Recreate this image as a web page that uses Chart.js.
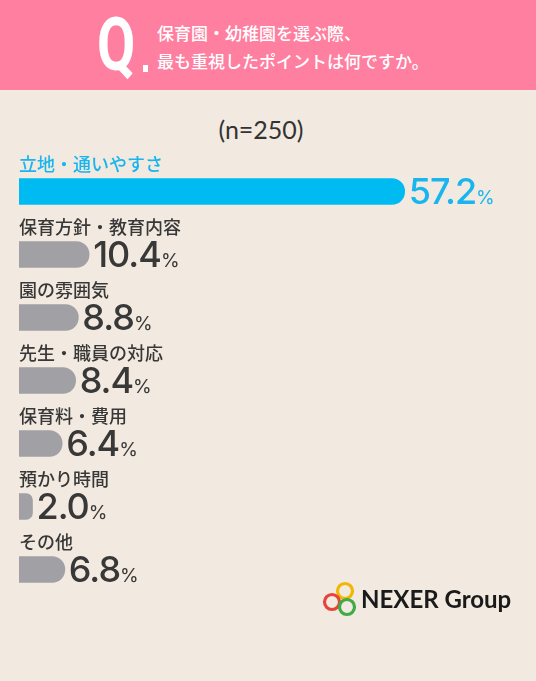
<!DOCTYPE html>
<html>
<head>
<meta charset="utf-8">
<script src="https://cdn.jsdelivr.net/npm/chart.js@4"></script>
<style>
  body { margin: 0; background: #F2EAE0; font-family: "Noto Sans CJK JP", "Noto Sans", sans-serif; }
  #page { position: relative; width: 536px; height: 681px; overflow: hidden; background: #F2EAE0; }
  #head { position: absolute; left: 0; top: 0; width: 536px; height: 90px; background: #FF7FA0; }
  #q { position: absolute; left: 97px; top: 3px; color: #fff; font: 700 74px Roboto, sans-serif; transform: scaleX(0.75); transform-origin: left top; line-height: 84px; }
  #qdot { position: absolute; left: 143px; top: 65px; width: 5px; height: 7px; background: #fff; }
  #qtext { position: absolute; left: 157px; top: 19px; color: #fff; font: 500 17px "Noto Sans CJK JP", sans-serif; line-height: 28px; }
  #n { position: absolute; left: 0; width: 522px; top: 114px; text-align: center; color: #333; font: 400 25px Lato, sans-serif; }
  #wrap { position: absolute; left: 0; top: 140px; width: 536px; height: 461px; }
  #logo { position: absolute; left: 321px; top: 580px; }
  #logotext { position: absolute; left: 361px; top: 584px; font: 700 24px Lato, sans-serif; color: #1a1a1a; }
</style>
</head>
<body>
<div id="page">
  <div id="head">
    <div id="q">Q</div>
    <div id="qdot"></div>
    <div id="qtext">保育園・幼稚園を選ぶ際、<br>最も重視したポイントは何ですか。</div>
  </div>
  <div id="n">(n=250)</div>
  <div id="wrap"><canvas id="barChart"></canvas></div>
  <svg id="logo" width="42" height="40" viewBox="0 0 42 40">
    <circle cx="24" cy="11" r="7.5" fill="none" stroke="#F2B705" stroke-width="3.2"/>
    <circle cx="11" cy="22" r="7.5" fill="none" stroke="#E5433B" stroke-width="3.2"/>
    <circle cx="26" cy="27" r="7.5" fill="none" stroke="#3FAA48" stroke-width="3.2"/>
  </svg>
  <div id="logotext">NEXER Group</div>
</div>
<script>
const categories = ['立地・通いやすさ', '保育方針・教育内容', '園の雰囲気', '先生・職員の対応', '保育料・費用', '預かり時間', 'その他'];
const percentages = [57.2, 10.4, 8.8, 8.4, 6.4, 2.0, 6.8];
const barColors = ['#00BAF2', '#A0A0A5', '#A0A0A5', '#A0A0A5', '#A0A0A5', '#A0A0A5', '#A0A0A5'];

// labels above bars and the big percent numbers at the bar ends
const barLabels = {
  id: 'barLabels',
  afterDatasetsDraw(chart) {
    const ctx = chart.ctx;
    const meta = chart.getDatasetMeta(0);
    meta.data.forEach((bar, i) => {
      const top = bar.y - bar.height / 2;
      const bottom = bar.y + bar.height / 2;
      const color = i === 0 ? '#19B5EE' : '#383838';
      ctx.save();
      ctx.fillStyle = color;
      ctx.font = '500 18px "Noto Sans CJK JP"';
      ctx.textBaseline = 'middle';
      ctx.textAlign = 'left';
      ctx.fillText(categories[i], 19, top - 14);

      const num = percentages[i].toFixed(1);
      ctx.font = '500 36px Inter';
      ctx.letterSpacing = '-1px';
      ctx.textBaseline = 'alphabetic';
      ctx.fillText(num, bar.x + 4, bottom - 1);
      const w = ctx.measureText(num).width;
      ctx.letterSpacing = '0px';
      ctx.font = '400 19px Inter';
      ctx.fillText('%', bar.x + 4 + w, bottom - 1);
      ctx.restore();
    });
  }
};

new Chart(document.getElementById('barChart'), {
  type: 'bar',
  data: {
    labels: categories,
    datasets: [{
      data: percentages,
      backgroundColor: barColors,
      borderRadius: 13,
      borderSkipped: 'start',
      barThickness: 26
    }]
  },
  options: {
    indexAxis: 'y',
    responsive: true,
    maintainAspectRatio: false,
    animation: false,
    layout: { padding: { left: 19, right: 45, top: 20, bottom: 0 } },
    plugins: {
      legend: { display: false },
      tooltip: { enabled: false }
    },
    scales: {
      x: { display: false, min: 0, max: 70 },
      y: { display: false }
    }
  },
  plugins: [barLabels]
});
</script>
</body>
</html>
